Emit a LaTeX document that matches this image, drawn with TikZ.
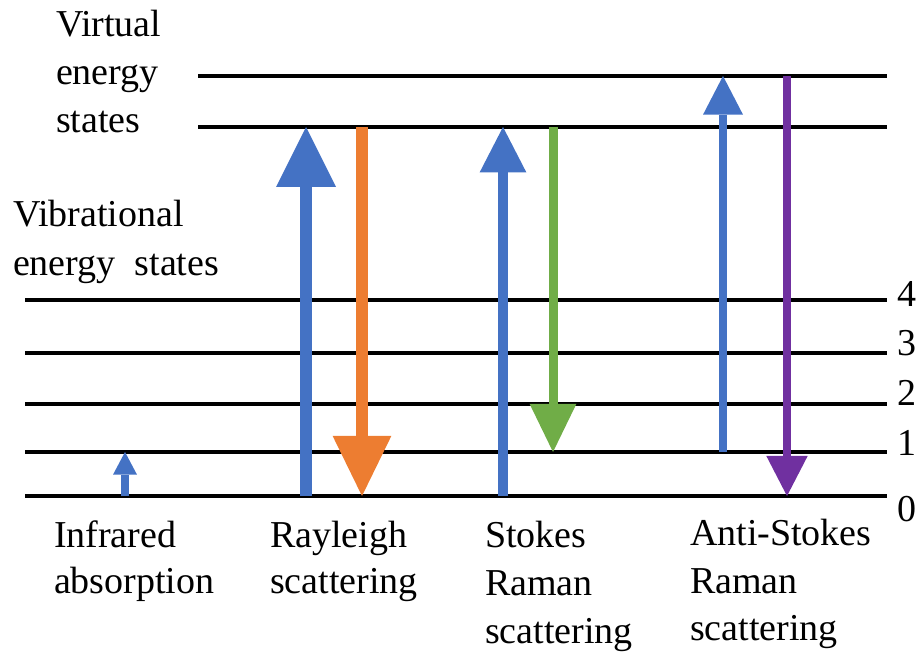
\documentclass[tikz,border=0pt]{standalone}
\usepackage{fontspec}
\setmainfont{LiberationSerif}[Extension=.ttf, UprightFont=*-Regular]
\usetikzlibrary{arrows.meta}
\definecolor{cblue}{HTML}{4472C4}
\definecolor{corange}{HTML}{ED7D31}
\definecolor{cgreen}{HTML}{70AD47}
\definecolor{cpurple}{HTML}{7030A0}
\begin{document}
\begin{tikzpicture}[x=0.75pt,y=-0.75pt,
  lbl/.style={anchor=base west, inner sep=0pt, outer sep=0pt, font=\rmfamily\fontsize{28.5pt}{35pt}\selectfont},
  levelline/.style={line width=2.4pt, black},
  arr/.style n args={4}{draw=#1, line width=#2, -{Triangle[length=#3, width=#4, line width=0pt]}}]
\useasboundingbox (0,0) rectangle (917,655);
% level line end points
\coordinate (vaL) at (198,76);  \coordinate (vaR) at (887,76);
\coordinate (vbL) at (198,127); \coordinate (vbR) at (887,127);
\coordinate (l4L) at (25,300);  \coordinate (l4R) at (887,300);
\coordinate (l3L) at (25,353);  \coordinate (l3R) at (887,353);
\coordinate (l2L) at (25,404);  \coordinate (l2R) at (887,404);
\coordinate (l1L) at (25,452);  \coordinate (l1R) at (887,452);
\coordinate (l0L) at (25,496);  \coordinate (l0R) at (887,496);
\foreach \n in {va,vb,l4,l3,l2,l1,l0} \draw[levelline] (\n L) -- (\n R);
% arrow end points
\coordinate (irA) at (125,496); \coordinate (irB) at (125,452);
\coordinate (ryA) at (306,496); \coordinate (ryB) at (306,127);
\coordinate (orA) at (362,127); \coordinate (orB) at (362,496);
\coordinate (stA) at (503,496); \coordinate (stB) at (503,127);
\coordinate (grA) at (553,127); \coordinate (grB) at (553,452);
\coordinate (asA) at (723,452); \coordinate (asB) at (723,76);
\coordinate (puA) at (787,76);  \coordinate (puB) at (787,496);
\draw[arr={cblue}{6pt}{17pt}{18pt}] (irA) -- (irB);
\draw[arr={cblue}{9pt}{45pt}{45pt}] (ryA) -- (ryB);
\draw[arr={corange}{9pt}{45pt}{44pt}] (orA) -- (orB);
\draw[arr={cblue}{7.5pt}{34pt}{35pt}] (stA) -- (stB);
\draw[arr={cgreen}{6.75pt}{36pt}{35pt}] (grA) -- (grB);
\draw[arr={cblue}{6pt}{29pt}{30pt}] (asA) -- (asB);
\draw[arr={cpurple}{6pt}{30pt}{31pt}] (puA) -- (puB);
% labels
\node[lbl] (t1) at (56,37) {Virtual};
\node[lbl] (t2) at (56,85) {energy};
\node[lbl] (t3) at (56,133) {states};
\node[lbl] (t4) at (13,227) {Vibrational};
\node[lbl] (t5) at (13,276) {energy\ \ states};
\node[lbl] (t6) at (54,547) {Infrared};
\node[lbl] (t7) at (54,593) {absorption};
\node[lbl] (t8) at (270,547) {Rayleigh};
\node[lbl] (t9) at (270,593) {scattering};
\node[lbl] (t10) at (485,547) {Stokes};
\node[lbl] (t11) at (485,595) {Raman};
\node[lbl] (t12) at (485,643) {scattering};
\node[lbl] (t13) at (690,545) {Anti-Stokes};
\node[lbl] (t14) at (690,593) {Raman};
\node[lbl] (t15) at (690,640) {scattering};
\node[lbl] (n4) at (897,307) {4};
\node[lbl] (n3) at (897,356) {3};
\node[lbl] (n2) at (897,406) {2};
\node[lbl] (n1) at (897,456) {1};
\node[lbl] (n0) at (897,521) {0};
\end{tikzpicture}
\end{document}
